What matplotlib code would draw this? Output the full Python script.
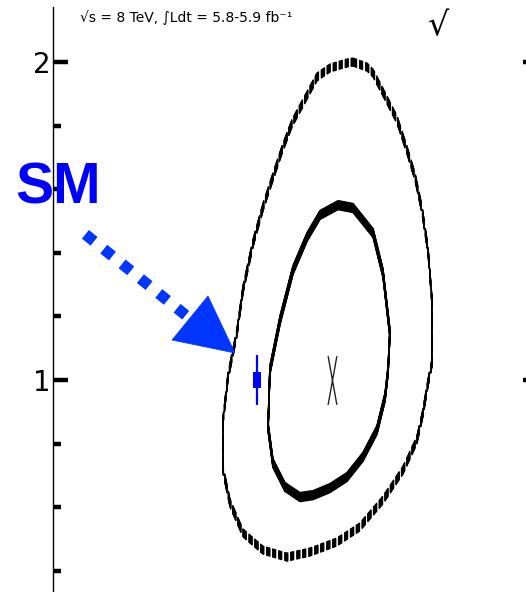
import numpy as np
import matplotlib
matplotlib.use("Agg")
import matplotlib.pyplot as plt
from matplotlib.path import Path
from matplotlib.patches import Polygon
from matplotlib import transforms as mtransforms

# 68% CL contour (solid) in the (kappa_F, kappa_V) plane
c68_kf = [1.270, 1.320, 1.387, 1.420, 1.443, 1.437, 1.427, 1.400, 1.353, 1.300,
          1.243, 1.187, 1.143, 1.093, 1.053, 1.037, 1.043, 1.077, 1.120, 1.167, 1.210]
c68_kv = [1.550, 1.541, 1.462, 1.336, 1.148, 1.031, 0.947, 0.843, 0.758, 0.695,
          0.660, 0.638, 0.632, 0.664, 0.739, 0.852, 1.031, 1.189, 1.346, 1.450, 1.519]

# 95% CL contour (dashed)
c95_kf = [1.320, 1.367, 1.387, 1.433, 1.467, 1.500, 1.527, 1.550, 1.570, 1.583,
          1.583, 1.570, 1.553, 1.533, 1.487, 1.420, 1.343, 1.267, 1.177, 1.100,
          1.020, 0.953, 0.910, 0.887, 0.887, 0.903, 0.933, 0.953, 0.987, 1.020,
          1.053, 1.083, 1.117, 1.153, 1.200, 1.243, 1.300]
c95_kv = [2.000, 1.984, 1.965, 1.881, 1.818, 1.723, 1.638, 1.535, 1.409, 1.252,
          1.053, 0.991, 0.896, 0.811, 0.717, 0.623, 0.538, 0.491, 0.459, 0.443,
          0.465, 0.519, 0.613, 0.717, 0.874, 1.009, 1.148, 1.283, 1.431, 1.544,
          1.638, 1.723, 1.808, 1.871, 1.953, 1.981, 1.997]

best_kf, best_kv = 1.25, 1.0
sm_kf, sm_kv = 1.0, 1.0

ytick_major = [1, 2]
lumi_text = "√s = 8 TeV, ∫Ldt = 5.8-5.9 fb⁻¹"

narrow = ["Liberation Sans Narrow", "DejaVu Sans"]
blue = "#0000ff"
arrow_blue = "#0036ff"

fig = plt.figure(figsize=(5.26, 5.92), dpi=100)
ax = fig.add_axes([0.10076, -0.07095, 0.92205, 1.05913])
ax.set_xlim(0.32, 1.93667)
ax.set_ylim(0.2013, 2.1730)

for side in ["top", "bottom", "right"]:
    ax.spines[side].set_visible(False)
ax.spines["left"].set_linewidth(1.0)
ax.set_xticks([])
ax.set_yticks(ytick_major)
ax.set_yticklabels([str(t) for t in ytick_major], family=narrow, fontsize=20)
ax.yaxis.set_minor_locator(plt.MultipleLocator(0.2))
ax.tick_params(axis="y", which="both", direction="in", left=True, right=True,
               width=3.2, pad=2)
ax.tick_params(axis="y", which="major", length=10.8)
ax.tick_params(axis="y", which="minor", length=5.8)


def closed(xs, ys):
    return np.append(xs, xs[0]), np.append(ys, ys[0])


def dash_gaps(xs, ys, on=15.0, off=6.5, squeeze=0.28):
    # cut the path into dashes measured along the un-squeezed display path
    pts = ax.transData.transform(np.column_stack([xs, ys]))
    dense = []
    for a, b in zip(pts[:-1], pts[1:]):
        n = max(int(np.hypot(*(b - a)) * 4), 1)
        t = np.linspace(0, 1, n, endpoint=False)
        dense.append(a + np.outer(t, b - a))
    dense.append(pts[-1:])
    dense = np.vstack(dense)
    d = np.diff(dense, axis=0)
    s = np.concatenate([[0], np.cumsum(np.hypot(d[:, 0] / squeeze, d[:, 1]))])
    keep = (s % (on + off)) < on
    out = ax.transData.inverted().transform(dense)
    out[~keep] = np.nan
    return out[:, 0], out[:, 1]


def thick(xs, ys, lw, half=4.5):
    # stack copies shifted vertically so flat parts come out heavy
    for dy in np.arange(-half, half + 0.01, 0.5):
        tr = ax.transData + mtransforms.ScaledTranslation(0, dy / fig.dpi, fig.dpi_scale_trans)
        ax.plot(xs, ys, color="black", lw=lw, transform=tr,
                solid_capstyle="butt", solid_joinstyle="round")


x68, y68 = closed(c68_kf, c68_kv)
thick(x68, y68, 1.0)

x95, y95 = closed(c95_kf, c95_kv)
x95d, y95d = dash_gaps(x95, y95)
thick(x95d, y95d, 0.9, half=4.0)

# best fit point
xmark = Path([(-0.09, -0.5), (0.09, 0.5), (0.09, -0.5), (-0.09, 0.5)],
             [Path.MOVETO, Path.LINETO, Path.MOVETO, Path.LINETO])
ax.plot(best_kf, best_kv, marker=xmark, ms=35, mew=1.0, mfc="none",
        color="#222222", zorder=5)

# Standard Model point
box = Path([(-0.28, -0.5), (0.28, -0.5), (0.28, 0.5), (-0.28, 0.5), (-0.28, -0.5)],
           [Path.MOVETO, Path.LINETO, Path.LINETO, Path.LINETO, Path.CLOSEPOLY])
ax.plot(sm_kf, sm_kv, marker="|", ms=36, mew=1.6, color=blue, zorder=6)
ax.plot(sm_kf, sm_kv, marker=box, ms=11.5, mew=0, mfc=blue, zorder=6)

# arrow pointing at the SM point, laid out in pixels around it
px, py = ax.transData.transform((sm_kf, sm_kv))
pix = mtransforms.IdentityTransform()
ax.plot([px - 171.6, px - 69.4], [py + 145.7, py + 63.3], transform=pix,
        color=arrow_blue, lw=8.0, linestyle=(0, (1, 1.12)),
        dash_capstyle="butt", clip_on=False, zorder=7)
head = Polygon([(px - 22, py + 27), (px - 85, py + 40), (px - 49, py + 84)],
               closed=True, transform=pix, facecolor=arrow_blue,
               edgecolor=arrow_blue, lw=0.5, clip_on=False, zorder=7)
ax.add_patch(head)

fig.text(15 / 526, 1 - 203 / 592, "SM", color=blue, fontsize=41,
         fontweight="bold", family=["Liberation Sans", "DejaVu Sans"],
         ha="left", va="baseline")

# labels along the top edge, cut off by the frame
ax.text(0.0557, 0.9760, lumi_text, transform=ax.transAxes, family=narrow,
        fontsize=10, ha="left", va="baseline", clip_on=True)
ax.text(0.7735, 0.955, "√", transform=ax.transAxes, family=narrow,
        fontsize=24, ha="left", va="baseline", clip_on=True)

fig.savefig("out.png", dpi=100)
